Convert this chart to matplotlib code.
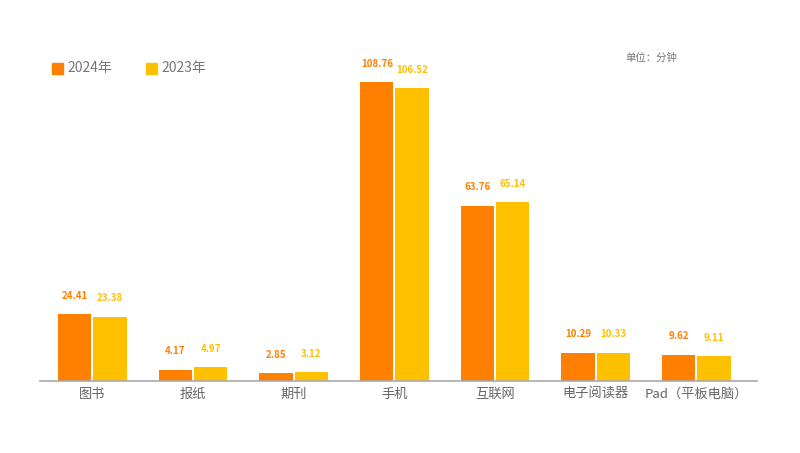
import matplotlib
matplotlib.use("Agg")
import matplotlib.pyplot as plt
import numpy as np

plt.rcParams['font.family'] = ['Noto Sans CJK SC', 'DejaVu Sans']

categories = ['图书', '报纸', '期刊', '手机', '互联网', '电子阅读器', 'Pad（平板电脑）']
vals_2024 = [24.41, 4.17, 2.85, 108.76, 63.76, 10.29, 9.62]
vals_2023 = [23.38, 4.97, 3.12, 106.52, 65.14, 10.33, 9.11]
series_names = ['2024年', '2023年']

c_2024 = '#FF7F00'
c_2023 = '#FFC000'

fig = plt.figure(figsize=(8, 4.53), dpi=100)
ax = fig.add_axes([0.05, 0.159, 0.896, 0.753])

x = np.arange(len(categories))
w = 0.33
b1 = ax.bar(x - w/2 - 0.01, vals_2024, w, color=c_2024)
b2 = ax.bar(x + w/2 + 0.01, vals_2023, w, color=c_2023)

# value labels above bars
for bars, vals, col in [(b1, vals_2024, c_2024), (b2, vals_2023, c_2023)]:
    for rect, v in zip(bars, vals):
        ax.annotate(f'{v:.2f}', (rect.get_x() + rect.get_width()/2, v),
                    xytext=(0, 9.5), textcoords='offset points',
                    ha='center', va='bottom', fontsize=7, fontweight='semibold',
                    color=col)

ax.set_xlim(-0.52, 6.6)
ax.set_ylim(0, 124)
ax.set_xticks(x)
ax.set_xticklabels(categories, fontsize=9.5, color='#666666')
ax.tick_params(axis='x', length=0, pad=5)
ax.set_yticks([])
for s in ['top', 'right', 'left']:
    ax.spines[s].set_visible(False)
ax.spines['bottom'].set_color('#aaaaaa')
ax.spines['bottom'].set_linewidth(1.2)

# legend
for i, (name, col) in enumerate(zip(series_names, [c_2024, c_2023])):
    x0 = 52 / 800 + i * 94 / 800
    fig.patches.append(plt.Rectangle((x0, 1 - 74/453), 11/800, 11/453,
                                     transform=fig.transFigure, color=col))
    fig.text(x0 + 15/800, 1 - 68/453, name, fontsize=10, color='#777777',
             va='center', ha='left')

fig.text(625/800, 1 - 58/453, '单位：分钟', fontsize=7.5, color='#777777',
         va='center', ha='left')

fig.savefig('out.png', dpi=100, facecolor='white')
